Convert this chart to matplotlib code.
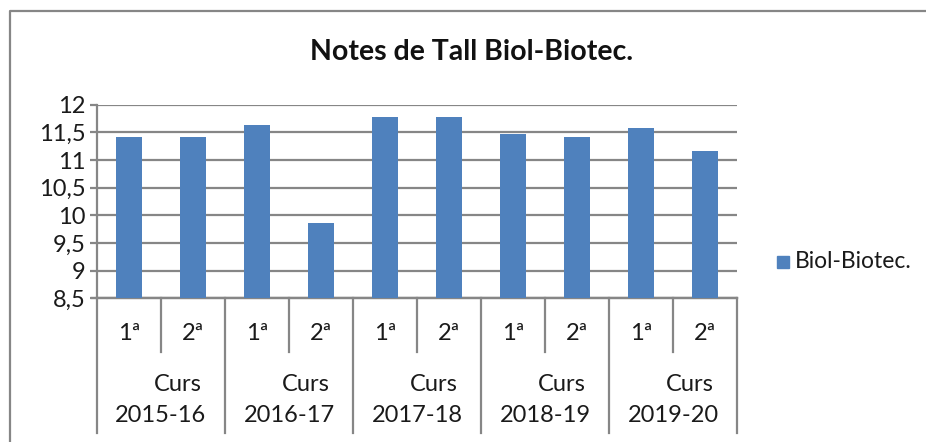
import matplotlib.pyplot as plt
import matplotlib.transforms as mtransforms
from matplotlib.patches import Rectangle
from matplotlib.lines import Line2D

# data
cursos = ["2015-16", "2016-17", "2017-18", "2018-19", "2019-20"]
convocatories = ["1ª", "2ª"]
notes = [11.42, 11.42, 11.63, 9.87, 11.77, 11.77, 11.47, 11.42, 11.58, 11.16]
y_ticks = [8.5, 9, 9.5, 10, 10.5, 11, 11.5, 12]

bar_color = "#4F81BD"
grid_color = "#868686"
text_color = "#1a1a1a"
plt.rcParams['font.family'] = ["Lato", "DejaVu Sans"]
fs = 17

fig = plt.figure(figsize=(9.26, 4.42), dpi=100)
ax = fig.add_axes([97 / 926, 1 - 298.3 / 442, 640 / 926, 193.6 / 442])

x = list(range(len(notes)))
ax.bar(x, notes, width=0.4, color=bar_color, zorder=3)

ax.set_xlim(-0.5, len(notes) - 0.5)
ax.set_ylim(8.5, 12)
ax.set_yticks(y_ticks)
ax.set_yticklabels([f"{v:g}".replace(".", ",") for v in y_ticks], fontsize=fs,
                   color=text_color)
ax.yaxis.grid(True, color=grid_color, linewidth=1.6, zorder=0)
ax.tick_params(axis='y', length=5, width=1.6, color=grid_color, pad=3)
ax.set_xticks([])

for side in ["top", "right"]:
    ax.spines[side].set_visible(False)
ax.spines["left"].set_color(grid_color)
ax.spines["left"].set_linewidth(1.6)
ax.spines["bottom"].set_color(grid_color)
ax.spines["bottom"].set_linewidth(1.6)

# multi level category axis
trans = mtransforms.blended_transform_factory(ax.transData, ax.transAxes)
ax.plot([-0.58, len(notes) - 0.5], [0, 0], transform=trans, color=grid_color,
        lw=1.6, clip_on=False)
for i, curs in enumerate(cursos):
    left = 2 * i - 0.5
    ax.plot([left, left], [0, -0.696], transform=trans, color=grid_color,
            lw=1.6, clip_on=False)
    ax.plot([left + 1, left + 1], [0, -0.277], transform=trans, color=grid_color,
            lw=1.6, clip_on=False)
    for j, conv in enumerate(convocatories):
        ax.text(2 * i + j, -0.184, conv, transform=trans, ha="center",
                va="center", fontsize=fs, color=text_color)
    ax.text(2 * i + 0.77, -0.447, "Curs", transform=trans, ha="center",
            va="center", fontsize=fs, color=text_color)
    ax.text(2 * i + 0.5, -0.607, curs, transform=trans, ha="center",
            va="center", fontsize=fs, color=text_color)
last = len(notes) - 0.5
ax.plot([last, last], [0, -0.696], transform=trans, color=grid_color,
        lw=1.6, clip_on=False)

fig.text(472 / 926, 1 - 52 / 442, "Notes de Tall Biol-Biotec.", ha="center",
         va="center", fontsize=20.5, fontweight="bold", color="#111111")

# legend
fig.patches.append(Rectangle((777 / 926, 1 - 268 / 442), 12 / 926, 12 / 442,
                             transform=fig.transFigure, color=bar_color))
fig.text(795 / 926, 1 - 261 / 442, "Biol-Biotec.", ha="left", va="center",
         fontsize=16.5, color=text_color)

# outer chart border (only top and left are visible)
fig.lines.append(Line2D([10 / 926, 10 / 926, 1.0], [0.0, 1 - 11 / 442, 1 - 11 / 442],
                        transform=fig.transFigure, color=grid_color, lw=1.6))

fig.savefig("out.png", dpi=100)
